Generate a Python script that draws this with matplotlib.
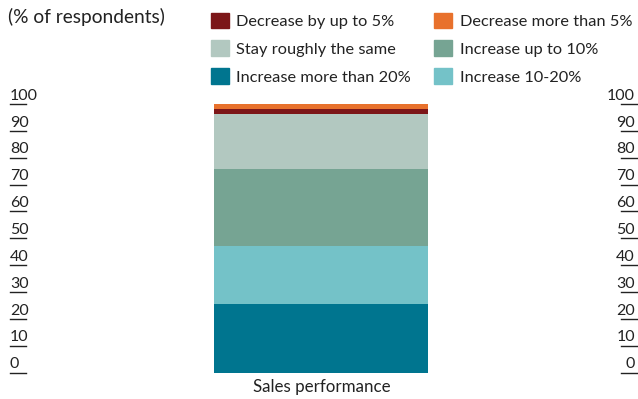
import matplotlib.pyplot as plt
from matplotlib.patches import Patch
from matplotlib.lines import Line2D
from matplotlib.transforms import blended_transform_factory

plt.rcParams['font.family'] = ['Lato', 'DejaVu Sans']

category = 'Sales performance'
# stacked from the bottom up
series = ['Increase more than 20%', 'Increase 10-20%', 'Increase up to 10%',
          'Stay roughly the same', 'Decrease by up to 5%', 'Decrease more than 5%']
values = [25.6, 21.4, 28.7, 20.6, 1.9, 1.9]
colors = ['#00758f', '#74c2c8', '#76a493', '#b2c8c0', '#7c1618', '#e8712c']
yticks = list(range(0, 101, 10))

W, H = 638, 399
fig = plt.figure(figsize=(W / 100, H / 100), dpi=100)
ax = fig.add_axes([213.7 / W, (H - 372.7) / H, (428 - 213.7) / W, (372.7 - 104) / H])

bottom = 0
for name, val, col in zip(series, values, colors):
    ax.bar([category], [val], bottom=bottom, width=1.0, color=col)
    bottom += val

ax.set_xlim(-0.5, 0.5)
ax.set_ylim(0, 100)
ax.axis('off')

fs = 11.5
ink = '#222222'
fig.text(322 / W, (H - 387) / H, category, ha='center', va='center', fontsize=12.2, color=ink)
fig.text(8 / W, (H - 17) / H, '(% of respondents)', ha='left', va='center', fontsize=13.8, color=ink)

# tick labels sitting on short underline marks, both sides
tr = blended_transform_factory(fig.transFigure, ax.transData)
for t in yticks:
    fig.text(10 / W, t + 0.5, str(t), transform=tr, ha='left', va='bottom', fontsize=fs, color=ink)
    fig.text(635 / W, t + 0.5, str(t), transform=tr, ha='right', va='bottom', fontsize=fs, color=ink)
    fig.add_artist(Line2D([10 / W, 26 / W], [t, t], transform=tr, color=ink, lw=1))
    fig.add_artist(Line2D([621 / W, 637 / W], [t, t], transform=tr, color=ink, lw=1))

order = ['Decrease by up to 5%', 'Stay roughly the same', 'Increase more than 20%',
         'Decrease more than 5%', 'Increase up to 10%', 'Increase 10-20%']
handles = [Patch(color=colors[series.index(n)], label=n) for n in order]
fig.legend(handles=handles, loc='upper left', bbox_to_anchor=(204 / W, 1 - 6 / H), ncol=2,
           frameon=False, fontsize=11.8, handlelength=1.1, handleheight=1.1,
           handletextpad=0.45, columnspacing=1.45, labelspacing=0.7, borderaxespad=0,
           labelcolor=ink)

fig.savefig('out.png', dpi=100)
